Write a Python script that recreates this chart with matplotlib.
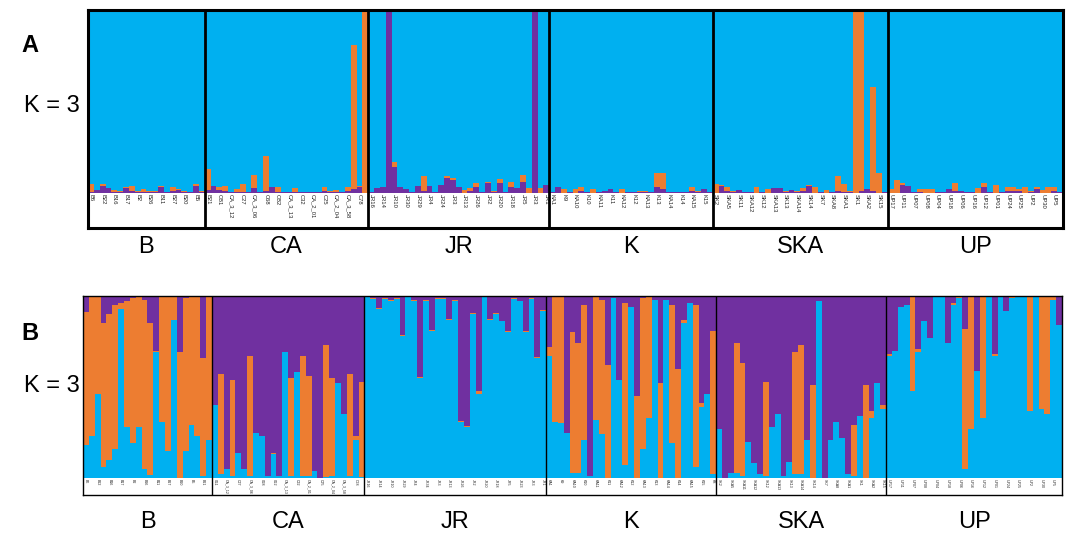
import matplotlib
matplotlib.use("Agg")
import matplotlib.pyplot as plt
import matplotlib.transforms as mtransforms
import numpy as np

plt.rcParams['font.family'] = ['Liberation Sans', 'DejaVu Sans']

CYAN = '#00B0F0'
ORANGE = '#ED7D31'
PURPLE = '#7030A0'

groups = ['B', 'CA', 'JR', 'K', 'SKA', 'UP']

# ---------------- Panel A (bottom: purple, then orange, rest cyan) ----------------
A_sizes = [20, 28, 31, 28, 30, 30]
A_purple = (
    [0.005, 0.015, 0.04, 0.025, 0.005, 0.005, 0.025, 0.01, 0.005, 0.005,
     0.005, 0.005, 0.03, 0.002, 0.01, 0.015, 0.005, 0.002, 0.035, 0.005] +
    [0.015, 0.035, 0.015, 0.01, 0.003, 0.005, 0.005, 0.003, 0.025, 0.003,
     0.01, 0.03, 0.005, 0.003, 0.003, 0.005, 0.003, 0.003, 0.003, 0.003,
     0.01, 0.005, 0.005, 0.003, 0.01, 0.02, 0.03, 0.0] +
    [0.003, 0.025, 0.03, 1.0, 0.14, 0.03, 0.02, 0.003, 0.04, 0.01,
     0.04, 0.003, 0.045, 0.08, 0.07, 0.03, 0.0, 0.01, 0.03, 0.003,
     0.055, 0.005, 0.055, 0.003, 0.03, 0.025, 0.06, 0.0, 1.0, 0.0, 0.045] +
    [0.003, 0.03, 0.0, 0.003, 0.0, 0.01, 0.003, 0.0, 0.003, 0.01,
     0.02, 0.003, 0.0, 0.003, 0.003, 0.002, 0.002, 0.003, 0.03, 0.02,
     0.003, 0.003, 0.003, 0.003, 0.01, 0.005, 0.02, 0.003] +
    [0.0, 0.04, 0.01, 0.005, 0.015, 0.003, 0.003, 0.0, 0.003, 0.0,
     0.025, 0.025, 0.005, 0.015, 0.005, 0.01, 0.035, 0.0, 0.003, 0.0,
     0.003, 0.01, 0.005, 0.005, 0.0, 0.01, 0.02, 0.01, 0.0, 0.003] +
    [0.0, 0.0, 0.045, 0.04, 0.003, 0.005, 0.0, 0.0, 0.003, 0.003,
     0.02, 0.01, 0.012, 0.003, 0.003, 0.0, 0.03, 0.003, 0.0, 0.003,
     0.01, 0.01, 0.01, 0.0, 0.005, 0.02, 0.0, 0.0, 0.01, 0.003]
)
A_orange = (
    [0.045, 0.0, 0.01, 0.0, 0.01, 0.005, 0.005, 0.025, 0.005, 0.015,
     0.005, 0.005, 0.005, 0.003, 0.02, 0.005, 0.005, 0.003, 0.015, 0.005] +
    [0.115, 0.0, 0.015, 0.025, 0.002, 0.015, 0.045, 0.002, 0.075, 0.002,
     0.19, 0.0, 0.025, 0.002, 0.002, 0.02, 0.002, 0.002, 0.002, 0.002,
     0.02, 0.005, 0.01, 0.002, 0.02, 0.79, 0.01, 1.0] +
    [0.002, 0.0, 0.0, 0.0, 0.03, 0.0, 0.0, 0.002, 0.0, 0.08,
     0.0, 0.002, 0.0, 0.01, 0.01, 0.0, 0.015, 0.015, 0.025, 0.002,
     0.005, 0.005, 0.022, 0.002, 0.03, 0.0, 0.04, 0.025, 0.0, 0.025, 0.0] +
    [0.002, 0.0, 0.02, 0.002, 0.02, 0.02, 0.002, 0.02, 0.002, 0.0,
     0.0, 0.002, 0.02, 0.002, 0.002, 0.01, 0.01, 0.002, 0.08, 0.09,
     0.002, 0.002, 0.002, 0.002, 0.02, 0.005, 0.0, 0.002] +
    [0.05, 0.005, 0.02, 0.005, 0.0, 0.002, 0.002, 0.03, 0.002, 0.02,
     0.0, 0.0, 0.005, 0.0, 0.005, 0.015, 0.01, 0.03, 0.002, 0.015,
     0.002, 0.08, 0.045, 0.005, 1.0, 0.99, 0.0, 0.57, 0.11, 0.002] +
    [0.02, 0.07, 0.01, 0.0, 0.002, 0.015, 0.02, 0.02, 0.002, 0.002,
     0.0, 0.045, 0.0, 0.002, 0.002, 0.025, 0.025, 0.002, 0.045, 0.002,
     0.02, 0.02, 0.01, 0.03, 0.005, 0.01, 0.015, 0.03, 0.02, 0.002]
)
A_labels = [
    ['B6', 'B22', 'B16', 'B17', 'B2', 'B26', 'B11', 'B27', 'B20', 'B5'],
    ['B21', 'CB1', 'CA_3_12', 'C27', 'CA_3_06', 'C68', 'CB2', 'CA_3_13', 'C32', 'CA_2_01',
     'C25', 'CA_2_04', 'CA_3_58', 'C78'],
    ['JR16', 'JR14', 'JR10', 'JR30', 'JR29', 'JR4', 'JR24', 'JR3', 'JR13', 'JR26',
     'JR2', 'JR20', 'JR18', 'JR5', 'JR3', 'JR1'],
    ['KA1', 'K9', 'KA10', 'K10', 'KA11', 'K11', 'KA12', 'K12', 'KA13', 'K13',
     'KA14', 'K14', 'KA15', 'K15'],
    ['SK2', 'SKA5', 'SK11', 'SKA12', 'SK12', 'SKA13', 'SK13', 'SKA14', 'SK14', 'SK7',
     'SKA8', 'SKA1', 'SK1', 'SKA2', 'SK15'],
    ['UP17', 'UP11', 'UP07', 'UP08', 'UP04', 'UP18', 'UP06', 'UP16', 'UP12', 'UP01',
     'UP24', 'UP25', 'UP2', 'UP30', 'UP5'],
]

# ---------------- Panel B (bottom: cyan, then orange, rest purple) ----------------
B_sizes = [22, 26, 31, 29, 29, 30]
B_cyan = (
    [0.18, 0.23, 0.46, 0.06, 0.10, 0.16, 0.93, 0.28, 0.19, 0.28, 0.05,
     0.015, 0.69, 0.31, 0.15, 0.87, 0.0, 0.15, 0.29, 0.23, 0.01, 0.21] +
    [0.40, 0.02, 0.05, 0.01, 0.14, 0.05, 0.01, 0.25, 0.23, 0.01, 0.13,
     0.01, 0.69, 0.01, 0.58, 0.01, 0.01, 0.04, 0.0, 0.005, 0.01, 0.52,
     0.35, 0.01, 0.21, 0.005] +
    [0.995, 0.985, 0.93, 0.985, 0.975, 0.985, 0.78, 0.995, 0.975, 0.55,
     0.975, 0.81, 0.985, 0.985, 0.87, 0.975, 0.31, 0.28, 0.90, 0.46,
     0.995, 0.87, 0.90, 0.86, 0.80, 0.985, 0.97, 0.80, 0.985, 0.66, 0.92] +
    [0.67, 0.31, 0.30, 0.25, 0.03, 0.03, 0.21, 0.01, 0.32, 0.24, 0.0,
     0.99, 0.54, 0.07, 0.94, 0.0, 0.16, 0.33, 0.98, 0.0, 0.98, 0.19,
     0.0, 0.85, 0.96, 0.06, 0.39, 0.46, 0.02] +
    [0.27, 0.0, 0.03, 0.03, 0.01, 0.20, 0.08, 0.02, 0.01, 0.28, 0.35,
     0.01, 0.09, 0.02, 0.02, 0.21, 0.0, 0.97, 0.0, 0.21, 0.31, 0.22,
     0.02, 0.01, 0.34, 0.0, 0.33, 0.52, 0.38] +
    [0.67, 0.70, 0.94, 0.95, 0.48, 0.69, 0.86, 0.77, 1.0, 1.0, 0.74,
     0.95, 0.99, 0.05, 0.27, 0.59, 0.33, 1.0, 0.67, 1.0, 0.92, 0.99,
     1.0, 1.0, 0.37, 1.0, 0.38, 0.35, 0.98, 0.84]
)
B_orange = (
    [0.73, 0.77, 0.54, 0.79, 0.80, 0.79, 0.03, 0.69, 0.80, 0.72, 0.93,
     0.835, 0.01, 0.69, 0.85, 0.13, 0.69, 0.84, 0.71, 0.77, 0.65, 0.79] +
    [0.0, 0.55, 0.0, 0.53, 0.0, 0.0, 0.66, 0.0, 0.0, 0.0, 0.01,
     0.0, 0.0, 0.54, 0.0, 0.66, 0.55, 0.0, 0.0, 0.725, 0.54, 0.0,
     0.0, 0.56, 0.02, 0.525] +
    [0.005, 0.005, 0.005, 0.005, 0.005, 0.005, 0.005, 0.005, 0.005, 0.005,
     0.005, 0.005, 0.005, 0.005, 0.005, 0.005, 0.005, 0.005, 0.005, 0.02,
     0.005, 0.005, 0.005, 0.005, 0.005, 0.005, 0.005, 0.005, 0.005, 0.005, 0.005] +
    [0.05, 0.69, 0.70, 0.0, 0.77, 0.71, 0.74, 0.0, 0.68, 0.74, 0.62,
     0.0, 0.0, 0.89, 0.0, 0.45, 0.83, 0.67, 0.0, 0.52, 0.0, 0.76,
     0.60, 0.02, 0.0, 0.89, 0.02, 0.0, 0.79] +
    [0.0, 0.0, 0.0, 0.71, 0.62, 0.0, 0.0, 0.0, 0.52, 0.0, 0.0,
     0.0, 0.0, 0.67, 0.71, 0.0, 0.51, 0.0, 0.0, 0.0, 0.0, 0.0,
     0.0, 0.28, 0.0, 0.51, 0.04, 0.0, 0.02] +
    [0.01, 0.0, 0.0, 0.0, 0.52, 0.02, 0.0, 0.0, 0.0, 0.0, 0.0,
     0.01, 0.005, 0.77, 0.73, 0.0, 0.67, 0.0, 0.01, 0.0, 0.0, 0.01,
     0.0, 0.0, 0.63, 0.0, 0.62, 0.65, 0.02, 0.0]
)
B_labels = [
    ['B6', 'B22', 'B16', 'B17', 'B2', 'B26', 'B11', 'B27', 'B20', 'B5', 'B21'],
    ['C61', 'CA_3_12', 'C27', 'CA_3_06', 'C68', 'C62', 'CA_3_13', 'C32', 'CA_2_01',
     'C25', 'CA_2_04', 'CA_3_58', 'C78'],
    ['JR16', 'JR14', 'JR10', 'JR29', 'JR4', 'JR34', 'JR3', 'JR13', 'JR26', 'JR2',
     'JR20', 'JR18', 'JR5', 'JR23', 'JR3', 'JR1'],
    ['KA1', 'K9', 'KA10', 'K10', 'KA11', 'K11', 'KA12', 'K12', 'KA13', 'K13',
     'KA14', 'K14', 'KA15', 'K15', 'K8'],
    ['SK2', 'SKA5', 'SKA11', 'SKA12', 'SK12', 'SKA13', 'SK13', 'SKA14', 'SK14', 'SK7',
     'SKA8', 'SKA1', 'SK1', 'SKA2', 'SK15'],
    ['UP17', 'UP11', 'UP07', 'UP08', 'UP04', 'UP18', 'UP06', 'UP16', 'UP12', 'UP01',
     'UP24', 'UP25', 'UP2', 'UP30', 'UP5'],
]

W, H = 1066, 546
fig = plt.figure(figsize=(W / 100, H / 100), dpi=100)
fig.patch.set_facecolor('white')


def px_axes(x0, x1, y0, y1):
    return fig.add_axes([x0 / W, 1 - y1 / H, (x1 - x0) / W, (y1 - y0) / H])


def draw_panel(ax, sizes, first, second, order_colors, labels, label_frac,
               frame_lw, sep_lw, lab_fs, group_y_px):
    n = sum(sizes)
    x = np.arange(n) + 0.5
    first = np.array(first)
    second = np.array(second)
    third = np.clip(1 - first - second, 0, None)
    c1, c2, c3 = order_colors
    ax.bar(x, first, width=1.0, bottom=0, color=c1, linewidth=0, align='center')
    ax.bar(x, second, width=1.0, bottom=first, color=c2, linewidth=0, align='center')
    ax.bar(x, third, width=1.0, bottom=first + second, color=c3, linewidth=0, align='center')
    ax.set_xlim(0, n)
    ax.set_ylim(-label_frac, 1.0)
    ax.set_xticks([])
    ax.set_yticks([])
    for s in ax.spines.values():
        s.set_linewidth(frame_lw)
        s.set_color('black')
    starts = np.cumsum([0] + sizes[:-1])
    for st in starts[1:]:
        ax.axvline(st, color='black', linewidth=sep_lw, zorder=5)
    for gi, (st, sz) in enumerate(zip(starts, sizes)):
        for j, lab in enumerate(labels[gi]):
            idx = st + 2 * j
            if idx >= st + sz:
                break
            ax.text(idx + 0.5, -0.008, lab, rotation=270, ha='center', va='top',
                    fontsize=lab_fs, color='#222222', clip_on=True)
        trans = mtransforms.blended_transform_factory(ax.transData, fig.transFigure)
        ax.text(st + sz / 2, 1 - group_y_px / H, groups[gi], transform=trans,
                ha='center', va='center', fontsize=17, color='black')


# Panel A
axA = px_axes(88, 1063, 10, 228)
draw_panel(axA, A_sizes, A_purple, A_orange, (PURPLE, ORANGE, CYAN), A_labels,
           35 / 182, 2.2, 2.0, 4.2, 247)

# Panel B
axB = px_axes(83, 1062, 296, 495)
draw_panel(axB, B_sizes, B_cyan, B_orange, (CYAN, ORANGE, PURPLE), B_labels,
           17 / 182, 1.0, 1.0, 2.6, 522)

fig.text(30 / W, 1 - 46 / H, 'A', fontsize=17, fontweight='bold', ha='center', va='center')
fig.text(52 / W, 1 - 106 / H, 'K = 3', fontsize=17, ha='center', va='center')
fig.text(30 / W, 1 - 333 / H, 'B', fontsize=17, fontweight='bold', ha='center', va='center')
fig.text(52 / W, 1 - 386 / H, 'K = 3', fontsize=17, ha='center', va='center')

fig.savefig('out.png', dpi=100, facecolor='white')
